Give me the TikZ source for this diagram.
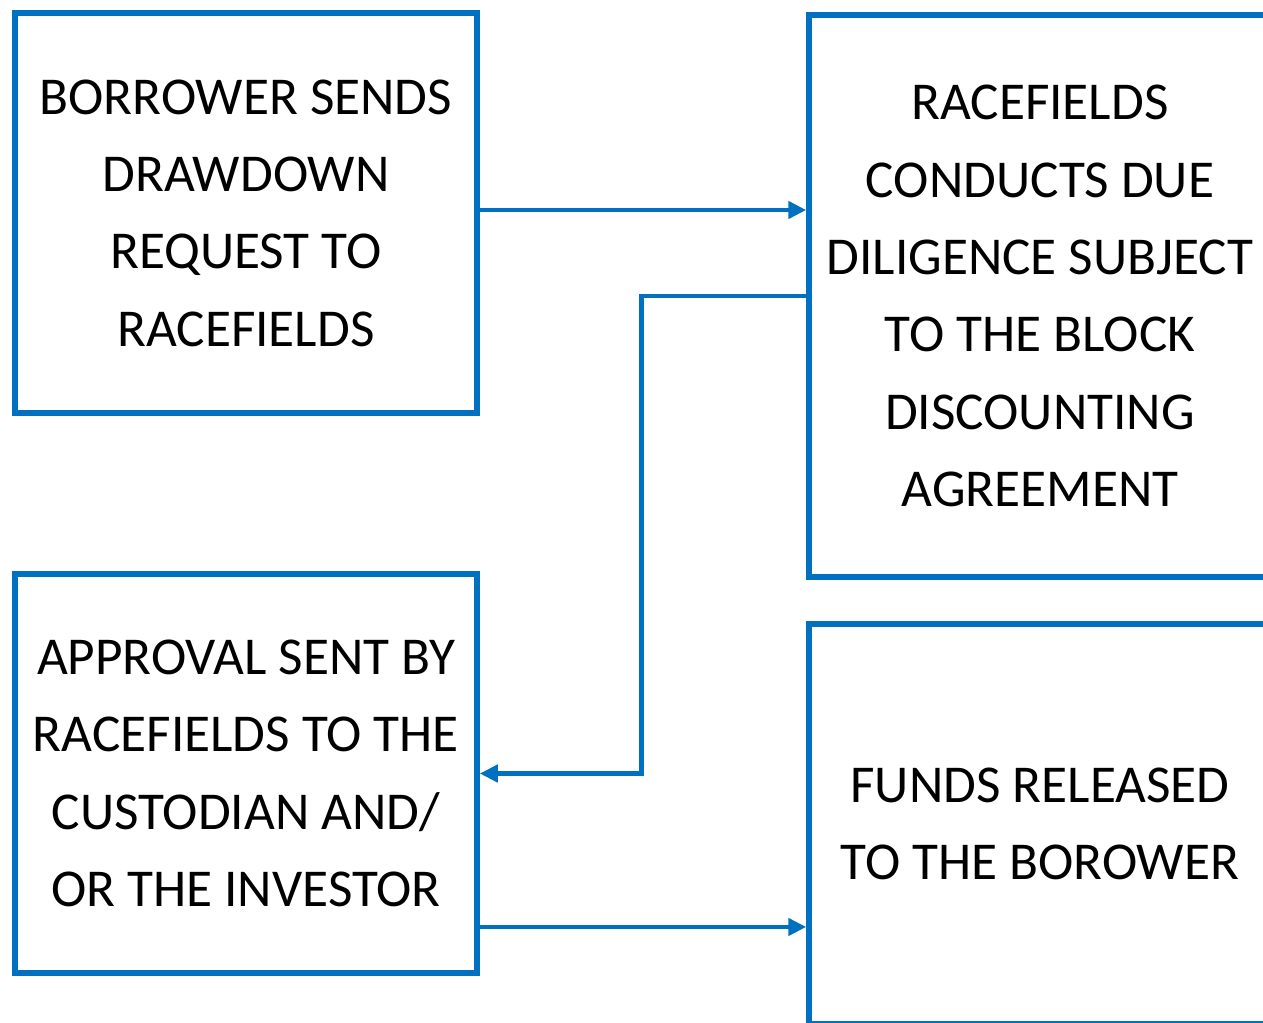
\documentclass[tikz,border=0pt]{standalone}
\usepackage{fontspec}
\setmainfont{Carlito}
\usetikzlibrary{positioning, arrows.meta, calc}
\definecolor{flowblue}{HTML}{0070C0}

\tikzset{
  stepbox/.style={draw=flowblue, line width=3.2pt, rectangle, align=center,
                  minimum width=9.24cm, inner sep=0pt,
                  font=\fontsize{30.3}{44}\selectfont},
  flowarrow/.style={draw=flowblue, line width=2.6pt,
                    -{Triangle[length=0.36cm, width=0.34cm]}}
}

\begin{document}
\begin{tikzpicture}[x=0.02cm, y=-0.02cm]
  \useasboundingbox (0,0) rectangle (1263,1022);

  \node[stepbox, minimum height=8cm] (borrower) at (246,213)
    {BORROWER SENDS\\DRAWDOWN\\REQUEST TO\\RACEFIELDS};
  \node[stepbox, minimum height=11.24cm] (diligence) at (1040,296)
    {RACEFIELDS\\CONDUCTS DUE\\DILIGENCE SUBJECT\\TO THE BLOCK\\DISCOUNTING\\AGREEMENT};
  \node[stepbox, minimum height=7.98cm] (approval) at (246,773.5)
    {APPROVAL SENT BY\\RACEFIELDS TO THE\\CUSTODIAN AND/\\OR THE INVESTOR};
  \node[stepbox, minimum height=8cm] (funds) at (1040,824)
    {FUNDS RELEASED\\TO THE BOROWER};

  % connectors
  \draw[flowarrow] ([yshift=0.06cm]borrower.east) -- ([yshift=0.06cm]borrower.east -| diligence.west);
  \draw[flowarrow] (diligence.west) -- ++(-165,0) |- (approval.east);
  \draw[flowarrow] ([yshift=-3.07cm]approval.east) -- ([yshift=-3.07cm]approval.east -| funds.west);
\end{tikzpicture}
\end{document}
